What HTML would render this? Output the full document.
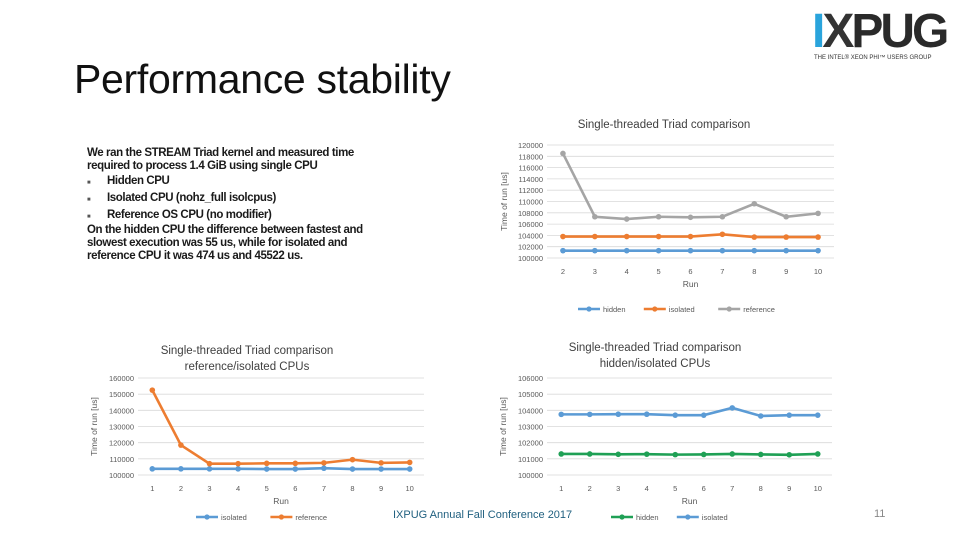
<!DOCTYPE html>
<html><head><meta charset="utf-8"><style>
body{margin:0;width:960px;height:540px;background:#fff;overflow:hidden;font-family:"Liberation Sans","DejaVu Sans",sans-serif;position:relative}
.t{position:absolute;white-space:nowrap}
.d{position:absolute;left:87px;white-space:nowrap;font-size:11.5px;font-weight:bold;letter-spacing:-0.4px;color:#1a1a1a}
</style></head><body>
<div class="t" style="left:74px;top:56px;font-size:41px;color:#111;letter-spacing:-0.3px">Performance stability</div>
<div>
<div class="d" style="top:147px">We ran the STREAM Triad kernel and measured time</div>
<div class="d" style="top:160px">required to process 1.4 GiB using single CPU</div>
<div class="d" style="top:175px"><span style="font-size:6px;color:#555">&#9632;</span>&nbsp;&nbsp;&nbsp;&nbsp;&nbsp;&nbsp;Hidden CPU</div>
<div class="d" style="top:192px"><span style="font-size:6px;color:#555">&#9632;</span>&nbsp;&nbsp;&nbsp;&nbsp;&nbsp;&nbsp;Isolated CPU (nohz_full isolcpus)</div>
<div class="d" style="top:209px"><span style="font-size:6px;color:#555">&#9632;</span>&nbsp;&nbsp;&nbsp;&nbsp;&nbsp;&nbsp;Reference OS CPU (no modifier)</div>
<div class="d" style="top:224px">On the hidden CPU the difference between fastest and</div>
<div class="d" style="top:237px">slowest execution was 55 us, while for isolated and</div>
<div class="d" style="top:250px">reference CPU it was 474 us and 45522 us.</div>
</div>
<div class="t" style="left:393px;top:509px;font-size:11px;color:#1f5f7f">IXPUG Annual Fall Conference 2017</div>
<div class="t" style="left:874px;top:508px;font-size:11px;color:#888">11</div>
<div style="position:absolute;left:812px;top:10px;width:140px;height:55px">
<div class="t" style="left:0;top:-6px;font-size:48px;font-weight:bold;letter-spacing:-3px;color:#2a2a2a"><span style="color:#2aa4dc">I</span><span style="color:#333">X</span>PUG</div>
<div class="t" style="left:2px;top:45px;font-size:6px;color:#333">THE INTEL® XEON PHI™ USERS GROUP</div></div>
<svg id="svg" width="960" height="540" style="position:absolute;left:0;top:0" xmlns="http://www.w3.org/2000/svg"></svg>
<script>
// Chart 1: runs 2..10
const c1Cats=[2,3,4,5,6,7,8,9,10];
const c1Hidden=[101300,101300,101300,101300,101300,101300,101300,101300,101300];
const c1Isolated=[103800,103800,103800,103800,103800,104200,103700,103700,103700];
const c1Reference=[118500,107300,106900,107300,107200,107300,109600,107300,107900];
const c1Ticks=[100000,102000,104000,106000,108000,110000,112000,114000,116000,118000,120000];
// Chart 2
const c2Cats=[1,2,3,4,5,6,7,8,9,10];
const c2Isolated=[103800,103800,103800,103800,103700,103700,104200,103700,103700,103700];
const c2Reference=[152500,118500,107000,107000,107200,107200,107500,109500,107500,107800];
const c2Ticks=[100000,110000,120000,130000,140000,150000,160000];
// Chart 3
const c3Cats=[1,2,3,4,5,6,7,8,9,10];
const c3Hidden=[101300,101300,101280,101290,101260,101270,101300,101270,101250,101300];
const c3Isolated=[103750,103750,103760,103760,103700,103700,104150,103650,103700,103700];
const c3Ticks=[100000,101000,102000,103000,104000,105000,106000];

const svg=document.getElementById('svg');
const NS='http://www.w3.org/2000/svg';
function mk(tag,attrs,parent){const e=document.createElementNS(NS,tag);for(const k in attrs)e.setAttribute(k,attrs[k]);(parent||svg).appendChild(e);return e;}
function txt(x,y,s,size,anchor,fill,parent){const e=mk('text',{x:x,y:y,'font-size':size,'text-anchor':anchor||'middle',fill:fill||'#595959','font-family':'Liberation Sans, sans-serif'},parent);e.textContent=s;return e;}

function chart(name,cfg){
  const g=mk('g',{});
  
  
  const ymin=cfg.ticks[0],ymax=cfg.ticks[cfg.ticks.length-1];
  const Y=v=>cfg.y0+(v-ymin)/(ymax-ymin)*(cfg.y1-cfg.y0);
  const n=cfg.cats.length,step=(cfg.x1-cfg.x0)/n;
  const X=i=>cfg.x0+step*(i+0.5);
  cfg.ticks.forEach(t=>{
    const l=mk('line',{x1:cfg.x0,x2:cfg.x1,y1:Y(t),y2:Y(t),stroke:'#d9d9d9','stroke-width':0.8},g);
    
    
    const tl=txt(cfg.x0-4,Y(t)+3,String(t),7.5,'end','#595959',g);
    
    
  });
  cfg.cats.forEach((c,i)=>{
    const tl=txt(X(i),cfg.y0+16,String(c),7.5,'middle','#595959',g);
    
    
  });
  const xt=txt((cfg.x0+cfg.x1)/2,cfg.y0+29,'Run',8.5,'middle','#595959',g);
  
  
  const ym=(cfg.y0+cfg.y1)/2;
  const yt=txt(0,0,'Time of run [us]',8.5,'middle','#595959',g);
  yt.setAttribute('transform','translate('+cfg.yTitleX+','+ym+') rotate(-90)');
  
  
  cfg.series.forEach(s=>{
    const pts=s.vals.map((v,i)=>X(i)+','+Y(v)).join(' ');
    const pl=mk('polyline',{points:pts,fill:'none',stroke:s.color,'stroke-width':2.6},g);
    
    
    s.vals.forEach((v,i)=>{
      const c=mk('circle',{cx:X(i),cy:Y(v),r:2.8,fill:s.color},g);
      
      
    });
  });
  let lx=cfg.legX;
  cfg.series.forEach(s=>{
    const lg=mk('g',{},g);
    
    
    mk('line',{x1:lx,x2:lx+22,y1:cfg.legY,y2:cfg.legY,stroke:s.color,'stroke-width':2.6},lg);
    mk('circle',{cx:lx+11,cy:cfg.legY,r:2.6,fill:s.color},lg);
    txt(lx+25,cfg.legY+3,s.name,7.5,'start','#595959',lg);
    lx+=s.name.length*4.3+40;
  });
  if(cfg.title){
    cfg.title.forEach((t,i)=>{
      const tt=txt(cfg.titleX,cfg.titleY+i*16,t,11.5,'middle','#404040',g);
      
      
    });
  }
}
chart('chart-all-cpus',{cats:c1Cats,ticks:c1Ticks,x0:547,x1:834,y0:258,y1:145,yTitleX:507,
  series:[{name:'hidden',vals:c1Hidden,color:'#5b9bd5'},{name:'isolated',vals:c1Isolated,color:'#ed7d31'},{name:'reference',vals:c1Reference,color:'#a5a5a5'}],
  legX:578,legY:309,title:['Single-threaded Triad comparison'],titleX:664,titleY:128});
chart('chart-reference-isolated',{cats:c2Cats,ticks:c2Ticks,x0:138,x1:424,y0:475,y1:378,yTitleX:97,
  series:[{name:'isolated',vals:c2Isolated,color:'#5b9bd5'},{name:'reference',vals:c2Reference,color:'#ed7d31'}],
  legX:196,legY:517,title:['Single-threaded Triad comparison','reference/isolated CPUs'],titleX:247,titleY:354});
chart('chart-hidden-isolated',{cats:c3Cats,ticks:c3Ticks,x0:547,x1:832,y0:475,y1:378,yTitleX:506,
  series:[{name:'hidden',vals:c3Hidden,color:'#1fa055'},{name:'isolated',vals:c3Isolated,color:'#5b9bd5'}],
  legX:611,legY:517,title:['Single-threaded Triad comparison','hidden/isolated CPUs'],titleX:655,titleY:351});
</script>
</body></html>
